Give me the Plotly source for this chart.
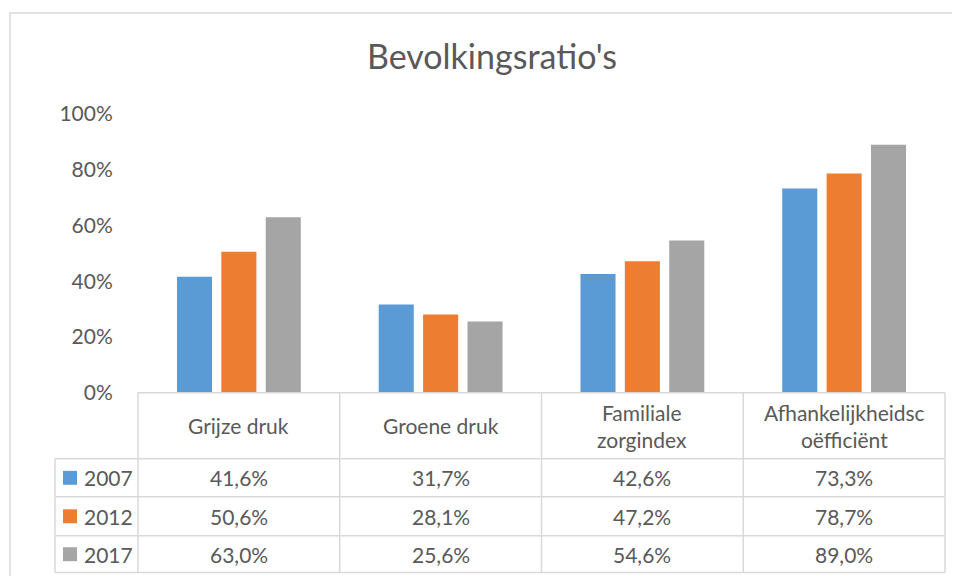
import plotly.graph_objects as go

# data
categories = ["Grijze druk", "Groene druk", "Familiale zorgindex", "Afhankelijkheidscoëfficiënt"]
header_labels = ["Grijze druk", "Groene druk", "Familiale<br>zorgindex", "Afhankelijkheidsc<br>oëfficiënt"]
years = ["2007", "2012", "2017"]
vals_2007 = [41.6, 31.7, 42.6, 73.3]
vals_2012 = [50.6, 28.1, 47.2, 78.7]
vals_2017 = [63.0, 25.6, 54.6, 89.0]
y_ticks = [0, 20, 40, 60, 80, 100]

series = [vals_2007, vals_2012, vals_2017]
colors = ["#5B9BD5", "#ED7D31", "#A5A5A5"]
TXT = "#595959"
GRID = "#D9D9D9"
FONT = "Lato"

# page body adds an 8px margin, so work in screen px and shift
OFF = 8
W, H = 960, 576
ML, MR, MT, MB = 138 - OFF, 960 - (945 - OFF), 114 - OFF, 576 - (574 - OFF)
PW = W - ML - MR
PH = H - MT - MB

fig = go.Figure()
for yr, vals, c in zip(years, series, colors):
    fig.add_trace(go.Bar(x=categories, y=vals, name=yr, marker_color=c,
                         marker_line_width=0, showlegend=False))

# table geometry in y-axis units (below the zero line)
row_edges = [0, -23.7, -37.3, -51.3, -64.5]
header_mid = (row_edges[0] + row_edges[1]) / 2
row_mids = [(row_edges[i] + row_edges[i + 1]) / 2 for i in range(1, 4)]

def px_to_paper(px):
    return (px - OFF - ML) / PW

leg_left = px_to_paper(55)
shapes = []
line = dict(color=GRID, width=1.5)
# top line of header
shapes.append(dict(type="line", xref="paper", yref="y", x0=0, x1=1,
                   y0=row_edges[0], y1=row_edges[0], line=line))
# row lines
for e in row_edges[1:]:
    shapes.append(dict(type="line", xref="paper", yref="y", x0=leg_left, x1=1,
                       y0=e, y1=e, line=line))
# column lines
for i in range(len(categories) + 1):
    shapes.append(dict(type="line", xref="paper", yref="y", x0=i / len(categories),
                       x1=i / len(categories), y0=row_edges[0], y1=row_edges[-1], line=line))
shapes.append(dict(type="line", xref="paper", yref="y", x0=leg_left, x1=leg_left,
                   y0=row_edges[1], y1=row_edges[-1], line=line))

annotations = []
for cat, lab in zip(categories, header_labels):
    annotations.append(dict(x=cat, xref="x", y=header_mid, yref="y", text=lab,
                            showarrow=False, font=dict(size=21, color=TXT, family=FONT)))
for yr, vals, c, ym in zip(years, series, colors, row_mids):
    for cat, v in zip(categories, vals):
        annotations.append(dict(x=cat, xref="x", y=ym, yref="y",
                                text=f"{v:.1f}%".replace(".", ","), showarrow=False,
                                font=dict(size=21, color=TXT, family=FONT)))
    shapes.append(dict(type="rect", xref="paper", yref="y",
                       x0=px_to_paper(63), x1=px_to_paper(77), y0=ym - 2.5, y1=ym + 2.5,
                       fillcolor=c, line=dict(width=0)))
    annotations.append(dict(x=px_to_paper(82), xref="paper", y=ym, yref="y", text=yr,
                            xanchor="left", showarrow=False,
                            font=dict(size=21, color=TXT, family=FONT)))

# outer chart border
shapes.append(dict(type="rect", xref="paper", yref="paper",
                   x0=px_to_paper(10), x1=1.2, y0=-0.1, y1=(H - MB - (13 - OFF)) / PH,
                   line=dict(color=GRID, width=1.5), fillcolor="rgba(0,0,0,0)"))

fig.update_layout(
    width=W, height=H,
    margin=dict(l=ML, r=MR, t=MT, b=MB),
    paper_bgcolor="white", plot_bgcolor="white",
    title=dict(text="Bevolkingsratio's", x=(492 - OFF) / W, xanchor="center",
               y=1 - (57 - OFF) / H, yanchor="middle",
               font=dict(size=34, color=TXT, family=FONT)),
    font=dict(family=FONT, color=TXT),
    barmode="group", bargap=0.34, bargroupgap=0.21,
    xaxis=dict(showticklabels=False, showgrid=False, showline=False, zeroline=False,
               range=[-0.5, 3.5]),
    yaxis=dict(range=[-65, 100], tickvals=y_ticks, ticktext=[f"{t}%" for t in y_ticks],
               showgrid=False, zeroline=False, showline=False,
               ticks="outside", ticklen=20, tickcolor="rgba(0,0,0,0)",
               tickfont=dict(size=21, color=TXT, family=FONT)),
    shapes=shapes, annotations=annotations,
)

fig.write_html("out.html")
